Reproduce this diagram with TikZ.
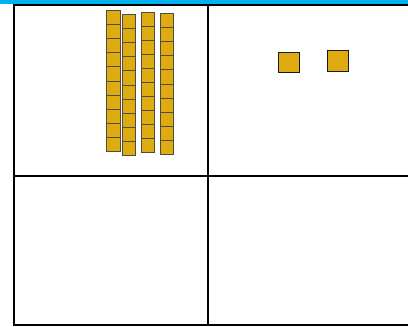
\documentclass[tikz,border=0pt]{standalone}
\definecolor{gold}{RGB}{222,172,16}
\definecolor{barblue}{RGB}{0,176,240}
\definecolor{rodedge}{RGB}{80,75,65}
\tikzset{
  gridline/.style={line width=2pt, black},
  rodcell/.style={fill=gold, draw=rodedge, line width=0.9pt},
  unitcube/.style={fill=gold, draw=black!90, line width=1.2pt},
}
\newcommand{\myrod}[3]{% x, top y, height
  \foreach \k in {0,...,9} {
    \path[rodcell] (#1,{#2+\k*#3/10}) rectangle ({#1+13.3},{#2+(\k+1)*#3/10});
  }
}
\begin{document}
\begin{tikzpicture}[x=1pt,y=-1pt]
\useasboundingbox (0,0) rectangle (408,327);
\fill[barblue] (0,0) rectangle (408,4.2);
% grid
\draw[gridline] (14,5) -- (410,5);
\draw[gridline] (14,175.5) -- (410,175.5);
\draw[gridline] (14,325) -- (410,325);
\draw[gridline] (14,4) -- (14,326);
\draw[gridline] (208,4) -- (208,326);
% rods
\myrod{106.7}{10.3}{141.4}
\myrod{122.3}{14.3}{141.4}
\myrod{141.3}{12.3}{140.4}
\myrod{160.3}{13.3}{141.4}
% unit cubes
\path[unitcube] (278.3,52.3) rectangle (299.7,72.7);
\path[unitcube] (327.3,50.3) rectangle (348.7,71.7);
\end{tikzpicture}
\end{document}
